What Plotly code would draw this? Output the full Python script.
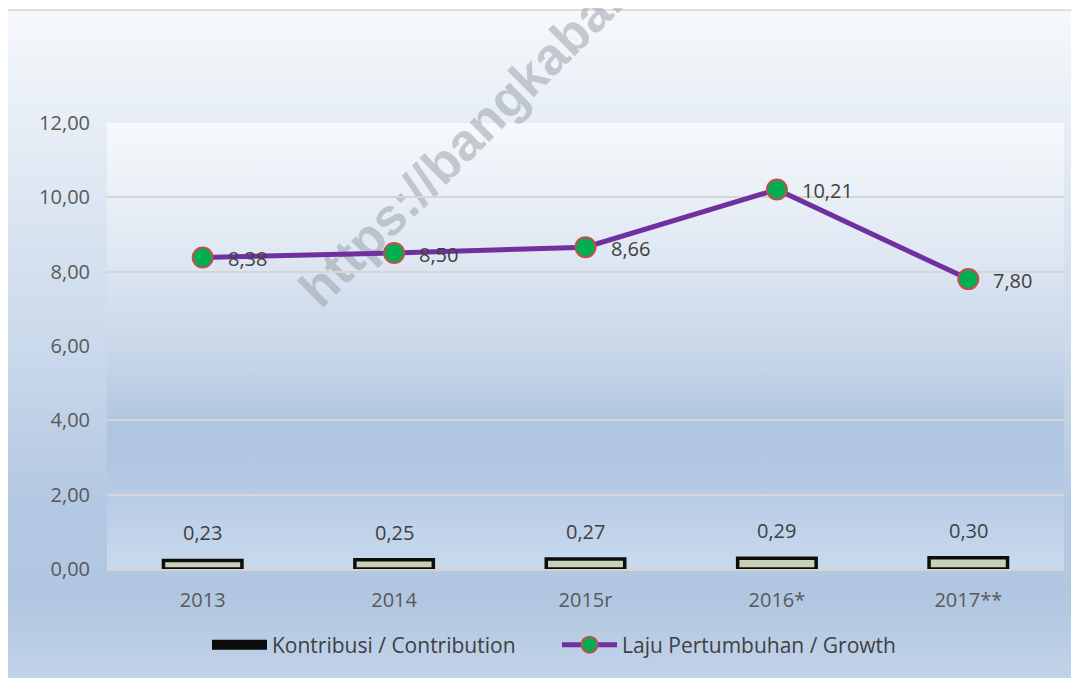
import base64
import plotly.graph_objects as go

# ---- data ----
years = ["2013", "2014", "2015r", "2016*", "2017**"]
contribution = [0.23, 0.25, 0.27, 0.29, 0.30]
growth = [8.38, 8.50, 8.66, 10.21, 7.80]
y_ticks = [0, 2, 4, 6, 8, 10, 12]
bar_name = "Kontribusi / Contribution"
line_name = "Laju Pertumbuhan / Growth"
watermark = "https://bangkabaratkab.bps.go.id"

OFF = 8  # page body margin in the browser
W, H = 1079, 678
# target plot area in page pixels: x 107..1064, y 123..569
L, T = 107 - OFF, 123 - OFF
R = W - (1064 - OFF)
B = H - (569 - OFF)
PW, PH = W - L - R, H - T - B


def fmt(v):
    return f"{v:.2f}".replace(".", ",")


# background (chart frame gradients + watermark) as one SVG image, page coords shifted by OFF
svg = f'''<svg xmlns="http://www.w3.org/2000/svg" width="{W}" height="{H}" viewBox="{OFF} {OFF} {W} {H}">
<defs>
<linearGradient id="outer" x1="0" y1="0" x2="0" y2="1">
<stop offset="0" stop-color="#f6f9fc"/>
<stop offset="0.17" stop-color="#e6edf5"/>
<stop offset="0.5" stop-color="#c9d8eb"/>
<stop offset="0.72" stop-color="#b3c8e2"/>
<stop offset="0.85" stop-color="#b1c6e0"/>
<stop offset="1" stop-color="#c4d6eb"/>
</linearGradient>
<linearGradient id="inner" x1="0" y1="0" x2="0" y2="1">
<stop offset="0" stop-color="#f6f9fc"/>
<stop offset="0.3" stop-color="#dfe7f2"/>
<stop offset="0.55" stop-color="#c3d3e8"/>
<stop offset="0.68" stop-color="#afc5df"/>
<stop offset="0.8" stop-color="#b3c8e2"/>
<stop offset="1" stop-color="#c9daee"/>
</linearGradient>
</defs>
<rect x="0" y="0" width="{W + 20}" height="{H + 20}" fill="#ffffff"/>
<rect x="7" y="10" width="{W + 10}" height="{H + 10}" fill="url(#outer)" stroke="#d6d6d6" stroke-width="1.5"/>
<rect x="107" y="123" width="957" height="446" fill="url(#inner)"/>
<text x="321" y="310" transform="rotate(-45 321 310)" font-family="Liberation Sans, Arial, sans-serif" font-weight="bold" font-size="52" fill="#949ba4" fill-opacity="0.5">{watermark}</text>
</svg>'''
src = "data:image/svg+xml;base64," + base64.b64encode(svg.encode("utf-8")).decode("ascii")

fig = go.Figure()

fig.add_trace(go.Bar(
    x=years, y=contribution, name=bar_name, width=0.41, showlegend=False,
    legendgroup="bar",
    marker=dict(color="#c9d2b8", line=dict(color="#0d0d0d", width=3.5)),
))
# legend key for the bars (wide black rectangle in the reference)
fig.add_trace(go.Scatter(
    x=[None], y=[None], name=bar_name, mode="lines", legendgroup="bar",
    line=dict(color="#0d0d0d", width=16),
))
fig.add_trace(go.Scatter(
    x=years, y=growth, name=line_name, mode="lines+markers",
    line=dict(color="#7030a0", width=5),
    marker=dict(size=20, color="#00b050", line=dict(color="#c0504d", width=2)),
))

annotations = []
for i, v in enumerate(contribution):
    annotations.append(dict(x=i, y=v, text=fmt(v), showarrow=False, yanchor="bottom",
                            yshift=12, font=dict(size=20, color="#404040")))
for i, v in enumerate(growth):
    annotations.append(dict(x=i, y=v, text=fmt(v), showarrow=False, xanchor="left",
                            xshift=23, yshift=-1, font=dict(size=20, color="#404040")))

fig.update_layout(
    width=W, height=H,
    margin=dict(l=L, r=R, t=T, b=B, pad=0),
    paper_bgcolor="#ffffff", plot_bgcolor="rgba(0,0,0,0)",
    font=dict(family="Open Sans, sans-serif", size=20, color="#595959"),
    separators=",.",
    showlegend=True,
    legend=dict(orientation="h", x=(557 - 107) / 957, xanchor="center",
                y=-(645 - 569) / 446, yanchor="middle",
                bgcolor="rgba(0,0,0,0)", font=dict(size=21, color="#404040"),
                itemwidth=55, entrywidth=280, entrywidthmode="pixels",
                traceorder="normal"),
    annotations=annotations,
    images=[dict(source=src, xref="paper", yref="paper", x=-L / PW, y=1 + T / PH,
                 sizex=W / PW, sizey=H / PH, sizing="stretch", layer="below",
                 xanchor="left", yanchor="top")],
)
fig.update_xaxes(type="category", range=[-0.5, len(years) - 0.5], showgrid=False,
                 showline=True, linecolor="#d8d4cc", linewidth=2, ticks="",
                 ticklabelstandoff=12, tickfont=dict(size=20, color="#595959"))
fig.update_yaxes(range=[0, 12], tickvals=y_ticks, tickformat=".2f", showgrid=True,
                 gridcolor="#d8d6d2", gridwidth=2, zeroline=False, showline=False,
                 ticks="", ticklabelstandoff=16, tickfont=dict(size=20, color="#595959"))

fig.write_html("out.html")
